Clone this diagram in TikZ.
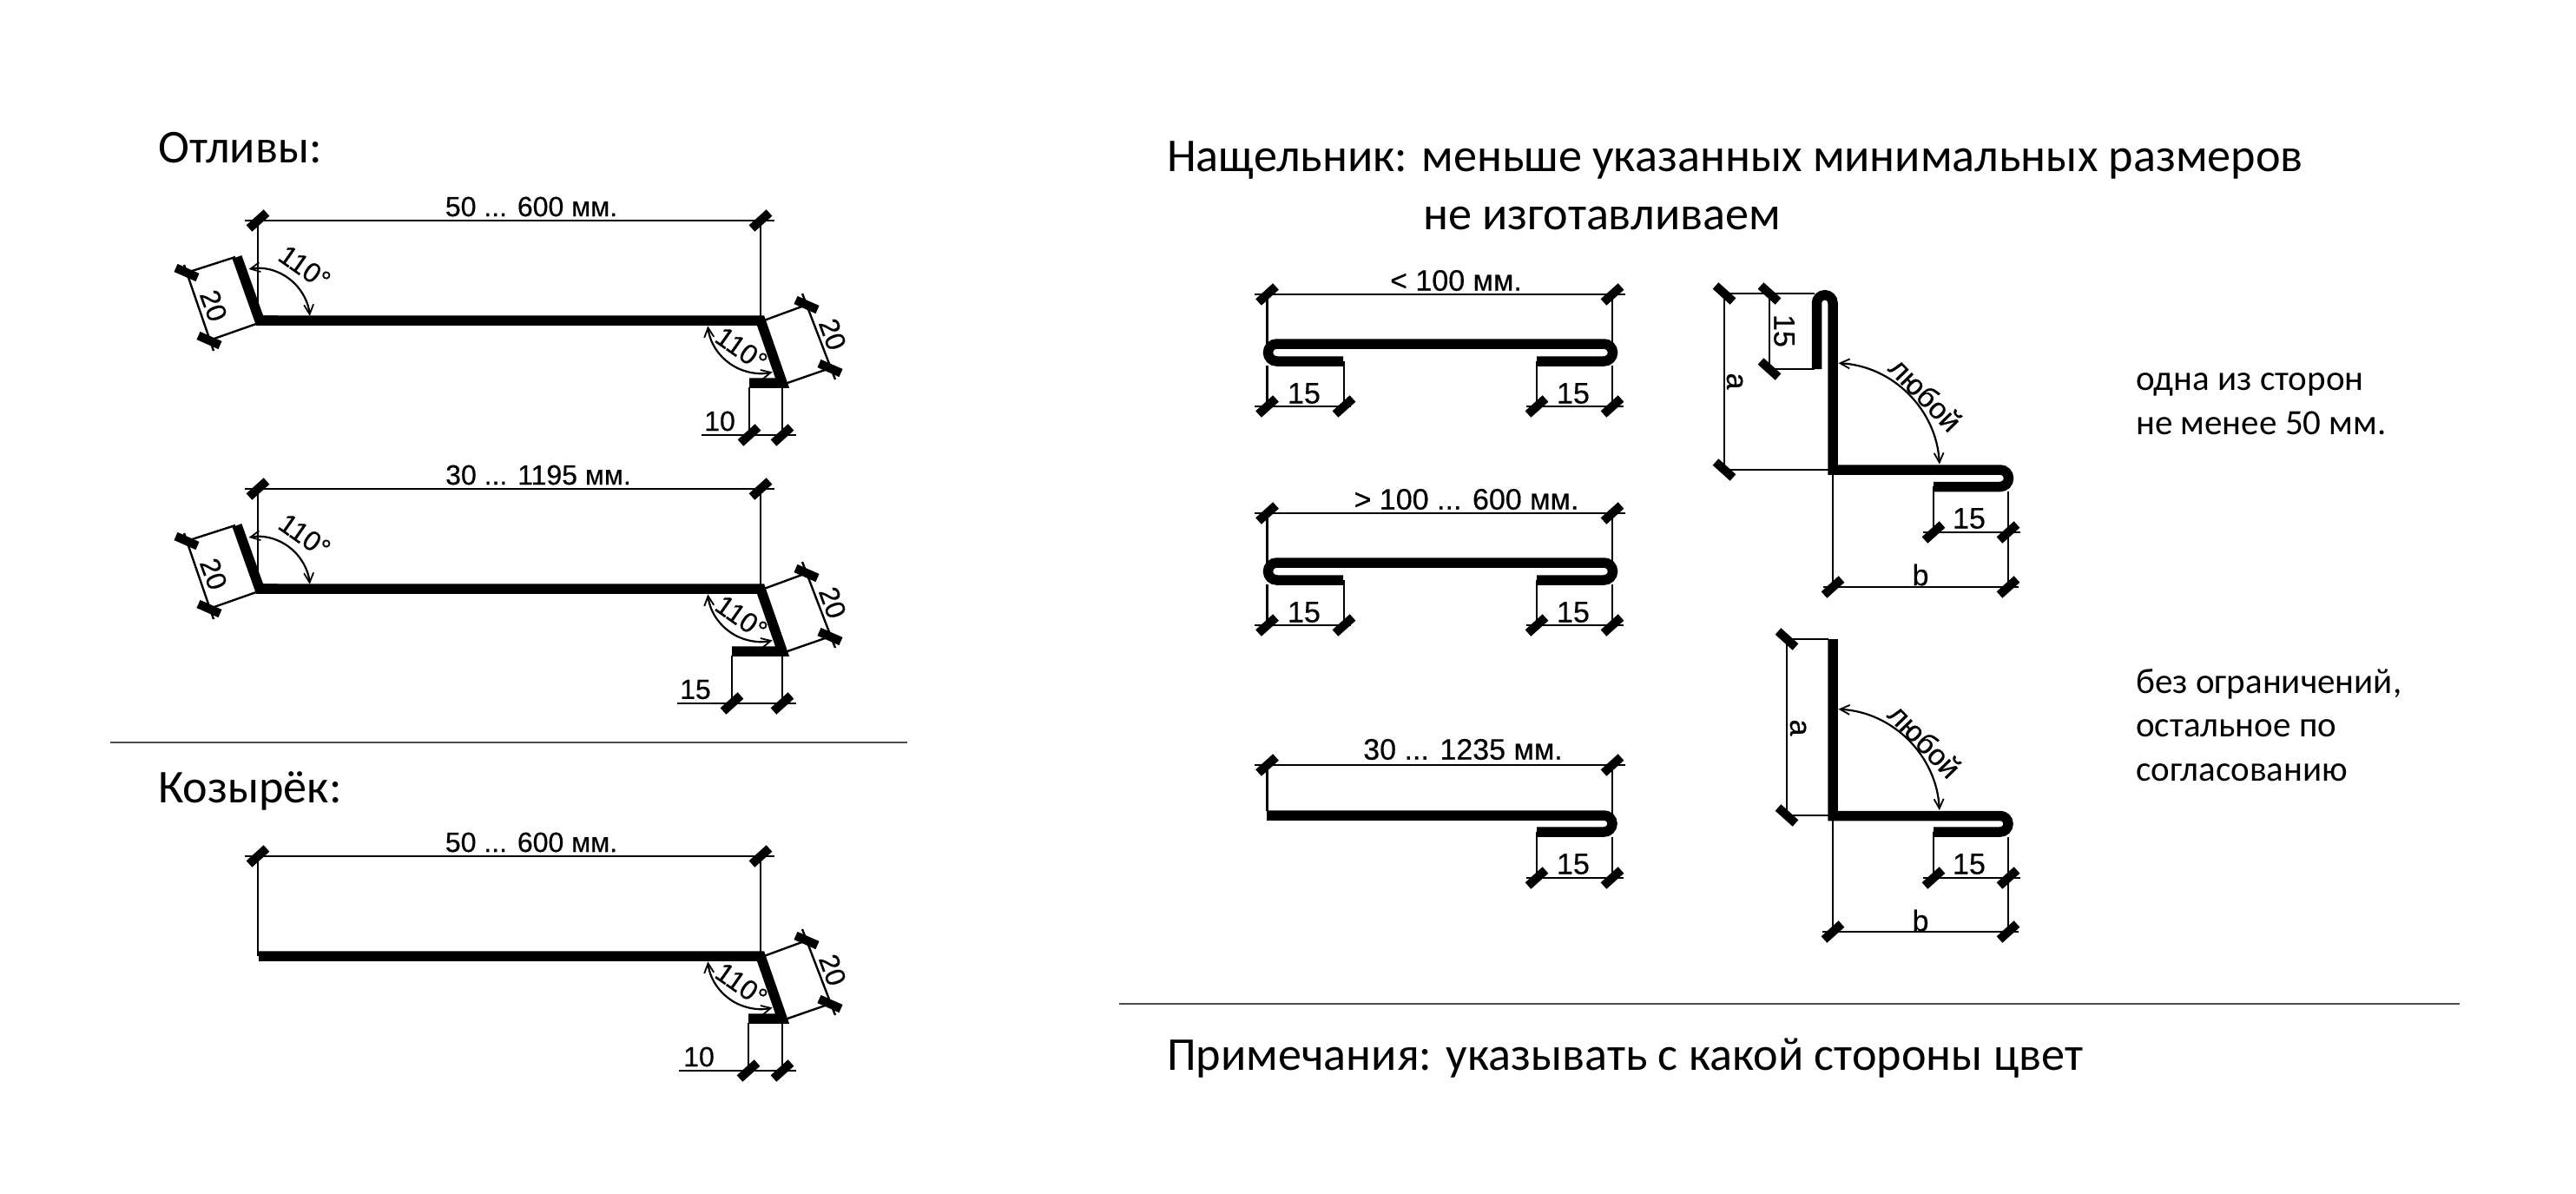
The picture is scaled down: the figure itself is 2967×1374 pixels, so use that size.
\documentclass[tikz,border=0pt]{standalone}
\usepackage{fontspec}
\setmainfont{Liberation Sans}
\newfontfamily\calib{Carlito}
\newfontfamily\dimf[FakeBold=0.4]{Liberation Sans}
\usetikzlibrary{arrows.meta}
\tikzset{
  x=1pt,y=1pt,
  metal/.style={line width=11.5pt,line cap=butt,miter limit=10},
  dim/.style={line width=2.4pt,line cap=butt},
  ticka/.style={line width=10pt,line cap=butt},
  angarc/.style={line width=2.2pt,{Straight Barb[length=11pt,width=11pt,line width=1.8pt]}-{Straight Barb[length=11pt,width=11pt,line width=1.8pt]}},
  lab/.style={inner sep=0pt,font=\dimf\fontsize{32}{32}\selectfont},
  labr/.style={inner sep=0pt,font=\dimf\fontsize{34}{34}\selectfont},
  title/.style={inner sep=0pt,anchor=base west,font=\calib\fontsize{54.2}{54.2}\selectfont},
  note/.style={inner sep=0pt,anchor=base west,font=\calib\fontsize{41}{41}\selectfont},
  sep/.style={line width=1.5pt,draw=black!70},
}
\newcommand\tkH[2]{\draw[ticka] ({#1-10},{#2-9}) -- ({#1+10},{#2+9});}
\newcommand\tkV[2]{\draw[ticka] ({#1-10},{#2+9}) -- ({#1+10},{#2-9});}
\newcommand\tkR[2]{\draw[ticka] ({#1-12.5},{#2+5.5}) -- ({#1+12.5},{#2-5.5});}
% right end of a drip profile: #1 name, #2 hem left x, #3 hem label, #4 left end of dim, #5 label x
\newcommand\rightend[5]{
  \draw[metal] (298,0) -- (876,0) -- (901,-72) -- (#2,-72);
  \draw[dim] (880,0) -- (929,18);
  \draw[dim] (907,-72) -- (956,-55);
  \draw[dim] (924,31) -- (962,-68);
  \tkR{929}{18}\tkR{956}{-55}
  \node[lab,rotate=-70] (#1r) at (959,-16) {20};
  \draw[angarc] ([shift={(-174:61)}]876,0) arc[start angle=-174,end angle=-77,radius=61];
  \node[lab,rotate=-35] (#1a) at (854,-33) {110°};
  \draw[dim] (#2,-77) -- (#2,-132);
  \draw[dim] (901,-77) -- (901,-132);
  \draw[dim] (#4,-132) -- (917,-132);
  \tkH{#2}{-132}\tkH{901}{-132}
  \node[lab] (#1h) at (#5,-116) {#3};
}
\newcommand\leftend[1]{
  \draw[metal] (273,73) -- (299,0) -- (320,0);
  \draw[dim] (271,73) -- (215,55);
  \draw[dim] (295,-4) -- (241,-23);
  \draw[dim] (212,64) -- (246,-35);
  \tkR{215}{55}\tkR{241}{-23}
  \node[lab,rotate=-70] (#1l) at (246,17) {20};
  \draw[angarc] ([shift={(100:60)}]297,0) arc[start angle=100,end angle=5,radius=60];
  \node[lab,rotate=-35] (#1b) at (351,61) {110°};
}
\newcommand\topdim[3]{
  \draw[dim] (282,115) -- (892,115);
  \draw[dim] (297,115) -- (297,0);
  \draw[dim] (876,115) -- (876,0);
  \tkH{297}{115}\tkH{876}{115}
  \node[lab] (#1t) at (#2,131) {#3};
}
\begin{document}
\begin{tikzpicture}
\useasboundingbox (0,0) rectangle (2967,-1374);
\fill[white] (0,0) rectangle (2967,-1374);

% titles
\node[title] (t1) at (182,-187) {Отливы:};
\node[title] (t2) at (182,-924) {Козырёк:};
\node[title] (t3) at (1344,-197) {Нащельник: меньше указанных минимальных размеров};
\node[title] (t4) at (1639,-264) {не изготавливаем};
\node[title] (t5) at (1344,-1232) {Примечания: указывать с какой стороны цвет};
\node[note] (n1) at (2460,-449) {одна из сторон};
\node[note] (n2) at (2460,-500) {не менее 50 мм.};
\node[note] (n3) at (2460,-798) {без ограничений,};
\node[note] (n4) at (2460,-848) {остальное по};
\node[note] (n5) at (2460,-899) {согласованию};
\draw[sep] (127,-855) -- (1045,-855);
\draw[sep] (1289,-1156) -- (2833,-1156);

% left column
\begin{scope}[shift={(0,-369)}]
  \rightend{a}{863}{10}{808}{829}
  \leftend{a}
  \topdim{a}{612}{50 ... 600 мм.}
\end{scope}
\begin{scope}[shift={(0,-678)}]
  \rightend{b}{843}{15}{780}{801}
  \leftend{b}
  \topdim{b}{620}{30 ... 1195 мм.}
\end{scope}
\begin{scope}[shift={(0,-1101)}]
  \rightend{c}{862}{10}{782}{805}
  \topdim{c}{612}{50 ... 600 мм.}
\end{scope}

% N1 and N2: both edges folded
\foreach \nm/\dy/\txt/\tx in {p/0/{< 100 мм.}/1677, q/-252/{> 100 ... 600 мм.}/1689}{
\begin{scope}[shift={(0,\dy)}]
  \draw[metal] (1547,-416) -- (1470.5,-416) arc[start angle=270,end angle=90,radius=10]
     -- (1847.5,-396) arc[start angle=90,end angle=-90,radius=10] -- (1770,-416);
  \draw[dim] (1445,-339) -- (1872,-339);
  \draw[dim] (1459.5,-339) -- (1459.5,-396);
  \draw[dim] (1857,-339) -- (1857,-396);
  \draw[dim] (1459.5,-421) -- (1459.5,-468);
  \draw[dim] (1857,-421) -- (1857,-468);
  \draw[dim] (1548,-416) -- (1548,-468);
  \draw[dim] (1770,-416) -- (1770,-468);
  \draw[dim] (1445,-468) -- (1556,-468);
  \draw[dim] (1758,-468) -- (1870,-468);
  \tkH{1459.5}{-339}\tkH{1857}{-339}
  \tkH{1459.5}{-468}\tkH{1548}{-468}\tkH{1770}{-468}\tkH{1857}{-468}
  \node[labr] (\nm t) at (\tx,-323) {\txt};
  \node[labr] (\nm l) at (1502,-453) {15};
  \node[labr] (\nm r) at (1812,-453) {15};
\end{scope}}

% N3
\draw[metal] (1459,-939) -- (1847.5,-939) arc[start angle=90,end angle=-90,radius=9.5] -- (1770,-958);
\draw[dim] (1445,-881) -- (1872,-881);
\draw[dim] (1459.5,-881) -- (1459.5,-934);
\draw[dim] (1857,-881) -- (1857,-939);
\draw[dim] (1857,-964) -- (1857,-1011);
\draw[dim] (1770,-958) -- (1770,-1011);
\draw[dim] (1758,-1011) -- (1870,-1011);
\tkH{1459.5}{-881}\tkH{1857}{-881}\tkH{1770}{-1011}\tkH{1857}{-1011}
\node[labr] (rt) at (1685,-863) {30 ... 1235 мм.};
\node[labr] (rl) at (1812,-995) {15};

% L1
\draw[metal] (2092.5,-425) -- (2092.5,-349) arc[start angle=180,end angle=0,radius=9.25]
   -- (2111,-541) -- (2303.75,-541) arc[start angle=90,end angle=-90,radius=9.75] -- (2227,-560.5);
\draw[dim] (1986,-338) -- (2090,-338);
\draw[dim] (2038,-425) -- (2090,-425);
\draw[dim] (1986,-541) -- (2106,-541);
\draw[dim] (1986,-338) -- (1986,-541);
\draw[dim] (2038,-338) -- (2038,-425);
\tkV{1986}{-338}\tkV{2038}{-338}\tkV{2038}{-425}\tkV{1986}{-541}
\node[labr,rotate=-90] (ul) at (2055,-381) {15};
\node[labr,rotate=-90] (ua) at (1998,-439) {a};
\draw[dim] (2111,-541) -- (2111,-676);
\draw[dim] (2313,-566) -- (2313,-676);
\draw[dim] (2227,-560) -- (2227,-613);
\draw[dim] (2100,-676) -- (2325,-676);
\draw[dim] (2215,-613) -- (2327,-613);
\tkH{2111}{-676}\tkH{2313}{-676}\tkH{2227}{-613}\tkH{2313}{-613}
\node[labr] (uf) at (2268,-597) {15};
\node[labr] (ub) at (2212,-662) {b};
\draw[angarc] ([shift={(87:123)}]2111,-541) arc[start angle=87,end angle=3,radius=123];
\node[labr,rotate=-46] (uy) at (2218,-454) {любой};

% L2
\draw[metal] (2111,-736) -- (2111,-939.5) -- (2303.75,-939.5) arc[start angle=90,end angle=-90,radius=9.25] -- (2227,-958);
\draw[dim] (2058,-736) -- (2106,-736);
\draw[dim] (2058,-939) -- (2106,-939);
\draw[dim] (2058,-736) -- (2058,-939);
\tkV{2058}{-736}\tkV{2058}{-939}
\node[labr,rotate=-90] (va) at (2071,-838) {a};
\draw[dim] (2111,-939) -- (2111,-1073);
\draw[dim] (2313,-964) -- (2313,-1073);
\draw[dim] (2227,-958) -- (2227,-1011);
\draw[dim] (2099,-1073) -- (2325,-1073);
\draw[dim] (2215,-1011) -- (2327,-1011);
\tkH{2111}{-1073}\tkH{2313}{-1073}\tkH{2227}{-1011}\tkH{2313}{-1011}
\node[labr] (vf) at (2268,-995) {15};
\node[labr] (vb) at (2212,-1060) {b};
\draw[angarc] ([shift={(87:123)}]2111,-939.5) arc[start angle=87,end angle=3,radius=123];
\node[labr,rotate=-46] (vy) at (2217,-853) {любой};
\end{tikzpicture}
\end{document}
